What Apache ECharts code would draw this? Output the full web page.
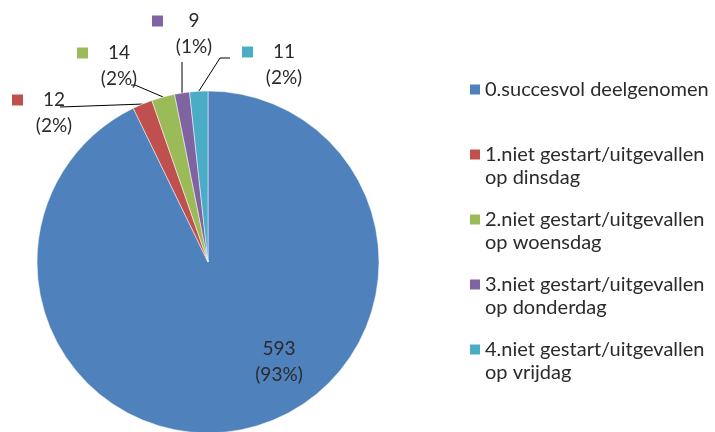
<!DOCTYPE html>
<html>
<head>
<meta charset="utf-8">
<script src="https://cdn.jsdelivr.net/npm/echarts@6/dist/echarts.min.js"></script>
<style>
html, body { margin: 0; padding: 0; background: #fff; }
#chart { width: 715px; height: 432px; }
</style>
</head>
<body>
<div id="chart"></div>
<script>
var categories = [
  '0.succesvol deelgenomen',
  '1.niet gestart/uitgevallen op dinsdag',
  '2.niet gestart/uitgevallen op woensdag',
  '3.niet gestart/uitgevallen op donderdag',
  '4.niet gestart/uitgevallen op vrijdag'
];
var values = [593, 12, 14, 9, 11];
var colors = ['#4F81BD', '#C0504D', '#9BBB59', '#8064A2', '#4BACC6'];

// label plek (links-boven, of midden voor het grote stuk)
var labelPos = [[279, 336], [12, 87], [77, 40], [152, 8], [242, 39]];
// knik- en eindpunten van de verbindingslijnen
var lineEnds = [null, [[60, 107]], [[135, 85], [131, 85]], [[182, 62]], [[220, 58], [230, 58]]];

var FONT = 'Lato';
var TXT = '#2b2b2b';
var myChart = echarts.init(document.getElementById('chart'), null, { renderer: 'canvas' });

var rich = {
  v: { fontFamily: FONT, fontSize: 19, color: TXT, lineHeight: 26, align: 'center' },
  t: { fontFamily: FONT, fontSize: 19, color: TXT, lineHeight: 26, width: 40, align: 'center' },
  g: { width: 11, height: 11 },
  e: { width: 22, height: 11 }
};
colors.forEach(function (c, i) {
  rich['k' + i] = { width: 11, height: 11, backgroundColor: c };
});

var pieData = values.map(function (v, i) {
  var item = { name: categories[i], value: v };
  if (i === 0) {
    item.label = { position: 'inside' };
    item.labelLine = { show: false };
  }
  return item;
});

var option = {
  backgroundColor: '#fff',
  color: colors,
  animation: false,
  legend: {
    orient: 'vertical',
    left: 470,
    top: 55,
    padding: 0,
    itemGap: -4,
    itemWidth: 10,
    itemHeight: 10,
    icon: 'rect',
    itemStyle: { borderWidth: 0 },
    selectedMode: false,
    data: categories,
    textStyle: { fontFamily: FONT, fontSize: 20, color: TXT, lineHeight: 23 },
    formatter: function (name) {
      var i = name.indexOf(' op ');
      if (i < 0) return ' \n' + name + '\n ';
      return ' \n' + name.slice(0, i) + '\n' + name.slice(i + 1);
    }
  },
  series: [{
    type: 'pie',
    center: [208, 262],
    radius: 171,
    startAngle: 90,
    clockwise: true,
    avoidLabelOverlap: false,
    itemStyle: { borderColor: '#fff', borderWidth: 0.5 },
    label: {
      show: true,
      position: 'outside',
      fontFamily: FONT,
      fontSize: 19,
      color: TXT,
      lineHeight: 26,
      formatter: function (p) {
        var pct = '(' + Math.round(p.percent) + '%)';
        if (p.dataIndex === 0) return '{v|' + p.value + '}\n{v|' + pct + '}';
        return '{k' + p.dataIndex + '|}{g|}{t|' + p.value + '}\n{e|}{t|' + pct + '}';
      },
      rich: rich
    },
    labelLine: {
      show: true,
      length: 8,
      length2: 8,
      lineStyle: { color: '#000', width: 1 }
    },
    labelLayout: function (params) {
      var i = params.dataIndex;
      var p = labelPos[i];
      var out = {
        x: p[0],
        y: p[1],
        align: i === 0 ? 'center' : 'left',
        verticalAlign: 'top'
      };
      if (lineEnds[i] && params.labelLinePoints) {
        out.labelLinePoints = [params.labelLinePoints[0]].concat(lineEnds[i]);
      }
      return out;
    },
    emphasis: { disabled: true },
    data: pieData
  }]
};
myChart.setOption(option);
</script>
</body>
</html>
